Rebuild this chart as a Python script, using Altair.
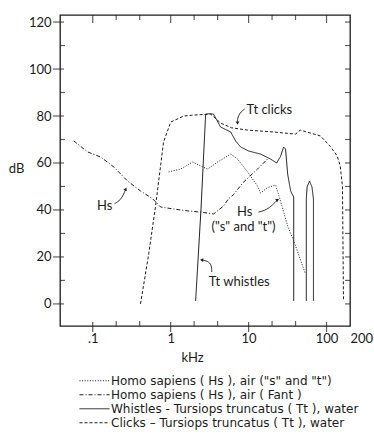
import altair as alt
import pandas as pd

# ---- curve data: frequency (kHz) and level (dB) ----
hs_st_khz = [0.94, 1.34, 1.91, 2.5, 2.98, 4.0, 5.9, 7.2, 9.7, 13.0, 14.2, 17.5, 22.2, 25.7, 31.7, 37.8, 53.6]
hs_st_db = [56.2, 57.4, 60.4, 58.5, 57.4, 60.4, 63.8, 61.7, 56.2, 50.2, 47.2, 49.5, 50.6, 43.8, 33.2, 27.0, 12.8]

hs_fant_khz = [0.057, 0.086, 0.127, 0.186, 0.28, 0.41, 0.59, 0.74, 1.09, 1.65, 2.42, 3.56, 4.78, 5.5, 6.4, 8.4, 13.0, 17.5]
hs_fant_db = [69.4, 64.7, 62.5, 58.3, 52.3, 48.1, 44.7, 41.3, 40.4, 39.6, 39.1, 38.3, 41.7, 44.7, 46.5, 51.5, 57.4, 61.7]

whistle_khz = [2.09, 2.45, 2.81, 3.2, 3.55, 4.37, 5.9, 6.8, 7.9, 10.0, 14.2, 19.1, 22.9, 25.7, 28.1, 29.8, 31.7, 34.6, 37.9, 37.9,
               55.0, 55.0, 56.3, 60.5, 65.0, 67.9, 67.9]
whistle_db = [1.3, 40.4, 80.8, 81.0, 80.8, 75.3, 73.2, 69.4, 66.8, 65.1, 63.8, 61.7, 60.0, 62.8, 66.8, 65.9, 55.3, 48.1, 45.5, 1.3,
              1.3, 44.7, 49.8, 52.3, 49.8, 44.7, 1.3]
whistle_part = [0] * 20 + [1] * 7

clicks_khz = [0.41, 0.52, 0.64, 0.81, 1.0, 1.47, 1.97, 3.26, 4.37, 6.0, 9.7, 20.9, 40.0, 46.0, 83.5, 112, 137, 150, 160, 165]
clicks_db = [0.0, 20.8, 41.7, 68.9, 77.4, 80.0, 80.4, 80.8, 77.0, 75.0, 74.0, 73.2, 72.3, 74.0, 71.5, 67.0, 63.0, 58.7, 50.0, 2.0]

series_names = [
    'Homo sapiens ( Hs ), air ("s" and "t")',
    "Homo sapiens ( Hs ), air ( Fant )",
    "Whistles - Tursiops truncatus ( Tt ), water",
    "Clicks – Tursiops truncatus ( Tt ), water",
]

# ---- axis ticks ----
x_label_values = [0.1, 1, 10, 100, 200]
x_major = [0.1, 1, 10, 100]
x_minor = [0.2, 0.4, 2, 4, 20, 40]
y_major = [0, 20, 40, 60, 80, 100, 120]
y_minor = [10, 30, 50, 70, 90, 110]
y_all = [0, 10, 20, 30, 40, 50, 60, 70, 80, 90, 100, 110, 120]

# ---- annotations ----
note_text = ["Tt clicks", "Hs", "Hs", '("s" and "t")', "Tt whistles"]
note_khz = [9.4, 0.142, 8.9, 8.6, 3.07]
note_db = [82.6, 41.7, 39.1, 32.8, 9.4]
note_align = ["left", "center", "center", "center", "left"]

leader_id = [0, 0, 0, 0, 1, 1, 1, 1, 2, 2, 2, 2, 3, 3, 3, 3]
leader_khz = [8.9, 7.7, 7.2, 7.2, 0.19, 0.229, 0.25, 0.265, 13.4, 17.0, 20.3, 23.5, 3.36, 3.36, 2.98, 2.5]
leader_db = [83.0, 81.3, 79.1, 77.0, 42.6, 44.3, 46.8, 48.9, 39.1, 40.0, 42.1, 44.3, 13.6, 16.6, 18.3, 18.7]
arrow_khz = [7.2, 0.265, 23.5, 2.5]
arrow_db = [77.0, 48.9, 44.3, 18.7]
arrow_angle = [180, 25, 60, 275]

X_MIN, X_MAX = 0.038, 200
Y_MIN, Y_MAX = -9.4, 123
INK = "#1c1c1c"
FONT = "Lato"
LEGEND_FONT = "DejaVu Sans"

x_scale = alt.Scale(type="log", domain=[X_MIN, X_MAX], nice=False)
y_scale = alt.Scale(domain=[Y_MIN, Y_MAX], nice=False, zero=False)


def rows(name, khz, db, part=None):
    part = part or [0] * len(khz)
    return [
        {"series": name, "khz": k, "db": d, "part": p, "i": i}
        for i, (k, d, p) in enumerate(zip(khz, db, part))
    ]


curves = pd.DataFrame(
    rows(series_names[0], hs_st_khz, hs_st_db)
    + rows(series_names[1], hs_fant_khz, hs_fant_db)
    + rows(series_names[2], whistle_khz, whistle_db, whistle_part)
    + rows(series_names[3], clicks_khz, clicks_db)
)

lines = alt.Chart(curves).mark_line(strokeCap="butt").encode(
    x=alt.X(
        "khz:Q",
        scale=x_scale,
        axis=alt.Axis(
            values=x_label_values,
            labelExpr="datum.value == 0.1 ? '.1' : format(datum.value, 'd')",
            labelAlign={"condition": {"test": "datum.value == 200", "value": "left"}, "value": "center"},
            ticks=False,
            domain=False,
            grid=False,
            labelPadding=6,
            labelFontSize=13,
            labelFont=FONT,
            labelColor=INK,
            labelFlush=False,
            labelOverlap=False,
            title="kHz",
            titleFont=FONT,
            titleFontSize=13,
            titleFontWeight="normal",
            titleColor=INK,
            titleX=132,
            titleY=31,
            titleAlign="center",
            titleBaseline="middle",
        ),
    ),
    y=alt.Y(
        "db:Q",
        scale=y_scale,
        axis=alt.Axis(
            values=y_major,
            ticks=False,
            domain=False,
            grid=False,
            labelPadding=9,
            labelFontSize=13,
            labelFont=FONT,
            labelColor=INK,
            labelFlush=False,
            title="dB",
            titleFont=FONT,
            titleFontSize=13,
            titleFontWeight="normal",
            titleColor=INK,
            titleAngle=0,
            titleX=-44,
            titleY=153,
            titleAlign="center",
            titleBaseline="middle",
        ),
    ),
    detail="part:N",
    order="i:Q",
    color=alt.Color(
        "series:N",
        scale=alt.Scale(domain=series_names, range=[INK] * 4),
        legend=alt.Legend(title=None),
    ),
    strokeDash=alt.StrokeDash(
        "series:N",
        scale=alt.Scale(domain=series_names, range=[[1, 1.6], [4, 2, 1, 2], [1, 0], [3, 2]]),
        legend=alt.Legend(title=None),
    ),
    strokeWidth=alt.StrokeWidth(
        "series:N",
        scale=alt.Scale(domain=series_names, range=[1.0, 1.0, 1.7, 1.7]),
        legend=alt.Legend(title=None),
    ),
)


def tick_layer(values, side, length, inner):
    src = pd.DataFrame({"v": values})
    if side in ("left", "right"):
        edge = X_MIN if side == "left" else X_MAX
        shift = inner - length / 2
        if side == "right":
            shift = -shift
        return alt.Chart(src).mark_tick(
            orient="horizontal", size=length, thickness=1.2, xOffset=shift, color=INK
        ).encode(
            x=alt.XDatum(edge, type="quantitative", scale=x_scale),
            y=alt.Y("v:Q", scale=y_scale),
        )
    edge = Y_MIN if side == "bottom" else Y_MAX
    shift = inner - length / 2
    if side == "bottom":
        shift = -shift
    return alt.Chart(src).mark_tick(
        orient="vertical", size=length, thickness=1.2, yOffset=shift, color=INK
    ).encode(
        x=alt.X("v:Q", scale=x_scale),
        y=alt.YDatum(edge, type="quantitative", scale=y_scale),
    )


ticks = [
    tick_layer(y_major, "left", 11, 4),
    tick_layer(y_minor, "left", 5, 5),
    tick_layer(y_all, "right", 5, 5),
    tick_layer(x_major, "bottom", 10, 4),
    tick_layer(x_minor, "bottom", 5, 5),
    tick_layer(x_major, "top", 8, 8),
    tick_layer(x_minor, "top", 5, 5),
]

notes = pd.DataFrame({"text": note_text, "khz": note_khz, "db": note_db, "align": note_align})
note_layers = [
    alt.Chart(notes[notes["align"] == a]).mark_text(
        font=FONT, fontSize=13, color=INK, align=a, baseline="middle"
    ).encode(
        x=alt.X("khz:Q", scale=x_scale),
        y=alt.Y("db:Q", scale=y_scale),
        text="text:N",
    )
    for a in ("left", "center")
]

leaders = pd.DataFrame({"id": leader_id, "khz": leader_khz, "db": leader_db})
leaders["i"] = range(len(leaders))
leader_lines = alt.Chart(leaders).mark_line(color=INK, strokeWidth=0.9, interpolate="basis").encode(
    x=alt.X("khz:Q", scale=x_scale),
    y=alt.Y("db:Q", scale=y_scale),
    detail="id:N",
    order="i:Q",
)

arrows = pd.DataFrame({"khz": arrow_khz, "db": arrow_db, "angle": arrow_angle})
arrow_heads = alt.Chart(arrows).mark_point(
    shape="triangle-up", filled=True, size=14, color=INK, opacity=1
).encode(
    x=alt.X("khz:Q", scale=x_scale),
    y=alt.Y("db:Q", scale=y_scale),
    angle=alt.Angle("angle:Q", scale=None),
)

chart = alt.layer(lines, *ticks, leader_lines, arrow_heads, *note_layers).properties(
    width=290,
    height=311,
    autosize=alt.AutoSizeParams(type="none"),
    padding={"left": 60, "top": 15, "right": 24, "bottom": 119},
    background="white",
).configure_view(
    stroke=INK, strokeWidth=1.3
).configure_legend(
    orient="none",
    legendX=19,
    legendY=359,
    padding=0,
    symbolType="stroke",
    symbolSize=900,
    clipHeight=13.5,
    rowPadding=0,
    labelOffset=1,
    labelFont=LEGEND_FONT,
    labelFontSize=12,
    labelColor=INK,
    labelLimit=400,
)

chart.save("out.html", embed_options={"renderer": "svg", "actions": False})
